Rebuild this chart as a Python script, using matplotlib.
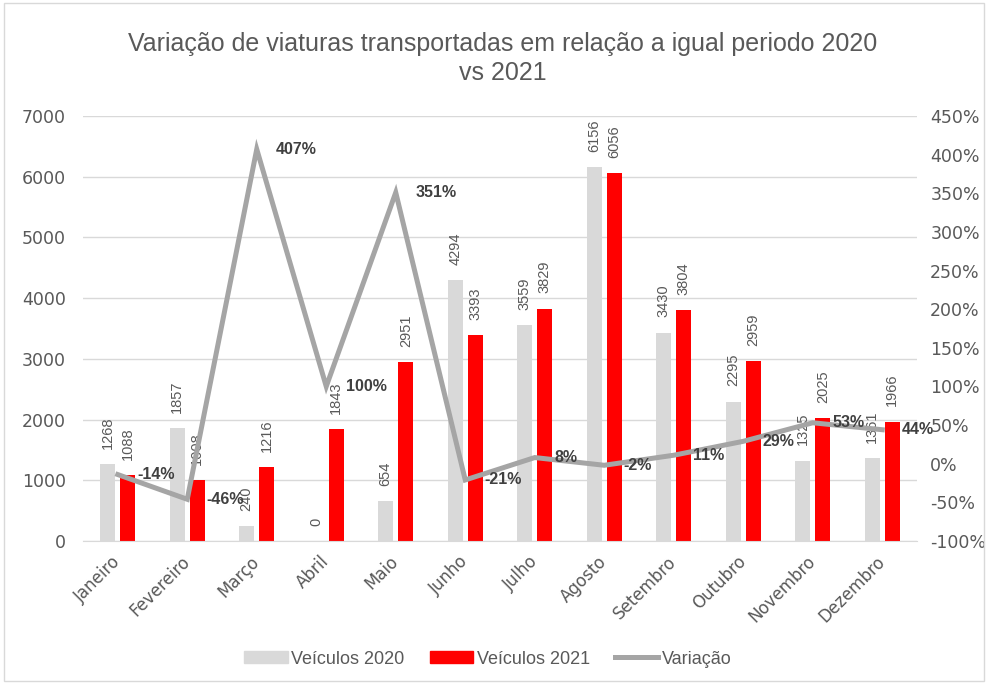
import matplotlib
matplotlib.use("Agg")
import matplotlib.pyplot as plt
import numpy as np
from matplotlib.lines import Line2D
from matplotlib.patches import Patch

months = ["Janeiro", "Fevereiro", "Março", "Abril", "Maio", "Junho", "Julho",
          "Agosto", "Setembro", "Outubro", "Novembro", "Dezembro"]
v2020 = [1268, 1857, 240, 0, 654, 4294, 3559, 6156, 3430, 2295, 1325, 1361]
v2021 = [1088, 1008, 1216, 1843, 2951, 3393, 3829, 6056, 3804, 2959, 2025, 1966]
variacao = [-14, -46, 407, 100, 351, -21, 8, -2, 11, 29, 53, 44]

plt.rcParams['font.family'] = ['Liberation Sans', 'DejaVu Sans']
txt = '#595959'
lab = '#404040'

fig = plt.figure(figsize=(9.88, 6.84), dpi=100)
ax = fig.add_axes([83/988, 1-541/684, 834/988, 425/684])
ax2 = ax.twinx()

x = np.arange(len(months))
w = 0.215
off = 0.144
ax.bar(x - off, v2020, w, color='#D9D9D9', zorder=2)
ax.bar(x + off, v2021, w, color='#FF0000', zorder=2)
for xi, v in zip(x, v2020):
    ax.annotate(str(v), (xi - off, v), xytext=(0, 11), textcoords='offset points',
                rotation=90, ha='center', va='bottom', fontsize=10.5, color=txt, zorder=3)
for xi, v in zip(x, v2021):
    ax.annotate(str(v), (xi + off, v), xytext=(0, 11), textcoords='offset points',
                rotation=90, ha='center', va='bottom', fontsize=10.5, color=txt, zorder=3)

ax.set_ylim(0, 7000)
ax.set_yticks(np.arange(0, 7001, 1000))
ax.set_xlim(-0.5, 11.5)
ax.set_xticks(x)
ax.set_xticklabels(months, rotation=45, ha='right', va='center', rotation_mode='anchor',
                   fontsize=12, color=txt, family='DejaVu Sans')
ax.tick_params(axis='y', labelsize=12.5, colors=txt, length=0, pad=12.5, labelfontfamily='DejaVu Sans')
ax.tick_params(axis='x', length=0, pad=13)
ax.grid(axis='y', color='#D9D9D9', lw=1, zorder=0)
ax.set_axisbelow(True)
for s in ax.spines.values():
    s.set_visible(False)
ax.spines['bottom'].set_visible(True)
ax.spines['bottom'].set_color('#D9D9D9')

ax2.plot(x, variacao, color='#A5A5A5', lw=3.6, zorder=4, solid_joinstyle='miter')
ax2.set_ylim(-100, 450)
ax2.set_yticks(np.arange(-100, 451, 50))
ax2.set_yticklabels([f"{t}%" for t in range(-100, 451, 50)])
ax2.tick_params(axis='y', labelsize=12.5, colors=txt, length=0, pad=9.5, labelfontfamily='DejaVu Sans')
for s in ax2.spines.values():
    s.set_visible(False)
for xi, v in zip(x, variacao):
    ax2.annotate(f"{v}%", (xi, v), xytext=(14, 0), textcoords='offset points',
                 ha='left', va='center', fontsize=11.5, fontweight='bold', color=lab, zorder=5)

fig.text(0.509, 1-44/684, "Variação de viaturas transportadas em relação a igual periodo 2020",
         ha='center', va='center', fontsize=18, color=txt)
fig.text(0.509, 1-73/684, "vs 2021",
         ha='center', va='center', fontsize=18, color=txt)

handles = [Patch(color='#D9D9D9'), Patch(color='#FF0000'), Line2D([], [], color='#A5A5A5', lw=3.6)]
fig.legend(handles, ["Veículos 2020", "Veículos 2021", "Variação"], loc='center',
           bbox_to_anchor=(0.494, 1-659/684), ncol=3, frameon=False,
           labelcolor=txt, handlelength=2.4, handleheight=0.6, columnspacing=1.4, handletextpad=0.2,
           prop={'family': 'Liberation Sans', 'size': 13})

fig.patches.append(plt.Rectangle((4/988, 3/684), 980/988, 678/684, transform=fig.transFigure,
                                 fill=False, edgecolor='#D9D9D9', lw=1))
fig.savefig("out.png", dpi=100)
